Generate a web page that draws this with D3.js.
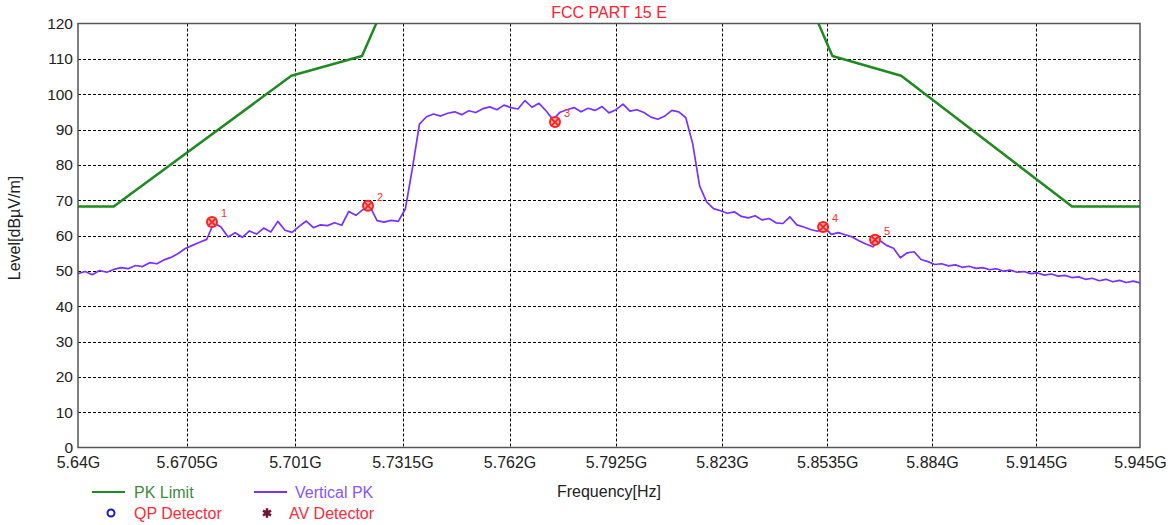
<!DOCTYPE html>
<html>
<head>
<meta charset="utf-8">
<script src="https://cdn.jsdelivr.net/npm/d3@7"></script>
<style>
  html, body { margin: 0; padding: 0; background: #fff; }
  svg { display: block; font-family: "Liberation Sans", Arial, sans-serif; }
</style>
</head>
<body>
<svg id="chart" width="1173" height="525"></svg>
<script>
// ---------------- data ----------------
const title = "FCC PART 15 E";
const xTickValues = [5.64, 5.6705, 5.701, 5.7315, 5.762, 5.7925, 5.823, 5.8535, 5.884, 5.9145, 5.945];
const xTickLabels = ["5.64G", "5.6705G", "5.701G", "5.7315G", "5.762G", "5.7925G", "5.823G", "5.8535G", "5.884G", "5.9145G", "5.945G"];
const yTickValues = [0, 10, 20, 30, 40, 50, 60, 70, 80, 90, 100, 110, 120];

// PK limit (GHz, dBµV/m)
const limitFreq  = [5.64, 5.65, 5.70, 5.72, 5.725, 5.85, 5.855, 5.875, 5.925, 5.945];
const limitLevel = [68.2, 68.2, 105.2, 110.8, 122.2, 122.2, 110.8, 105.2, 68.2, 68.2];

// Vertical PK sweep: start / stop (GHz) and level readings (dBµV/m), evenly swept
const sweepStart = 5.64;
const sweepStop  = 5.945;
const traceLevel = [
  49.2, 49.8, 48.9, 50.1, 49.6, 50.4, 50.9, 50.6, 51.5, 51.2,
  52.3, 52.0, 53.1, 53.8, 54.9, 56.3, 57.2, 58.1, 58.9, 63.6,
  62.4, 59.6, 60.8, 59.5, 61.3, 60.4, 62.1, 61.0, 64.0, 61.5,
  60.9, 62.6, 64.1, 62.2, 63.0, 62.8, 63.6, 62.9, 66.8, 65.7,
  67.3, 68.2, 64.2, 63.8, 64.3, 64.0, 67.5, 79.0, 91.5, 93.6,
  94.4, 93.8, 94.6, 95.0, 94.2, 95.3, 94.8, 95.9, 96.4, 95.6,
  96.9, 96.2, 95.8, 98.2, 96.3, 97.4, 95.3, 92.8, 94.9, 95.6,
  96.2, 95.0, 96.0, 95.4, 96.5, 94.7, 95.6, 97.2, 95.2, 95.6,
  94.8, 93.5, 92.9, 93.8, 95.4, 95.0, 93.4, 86.0, 74.0, 69.5,
  67.6, 67.0, 66.3, 66.7, 65.4, 65.0, 65.6, 64.4, 64.8, 63.6,
  63.4, 65.3, 63.0, 62.4, 61.7, 61.2, 62.3, 60.3, 60.8, 60.2,
  59.6, 58.5, 57.6, 56.8, 58.6, 57.2, 56.4, 53.7, 55.1, 55.4,
  53.2, 52.6, 51.8, 52.0, 51.4, 51.7, 51.0, 51.3, 50.7, 50.9,
  50.3, 50.6, 49.9, 50.2, 49.6, 49.8, 49.2, 49.4, 48.8, 49.1,
  48.5, 48.7, 48.1, 48.3, 47.6, 47.9, 47.2, 47.6, 46.9, 47.3,
  46.7, 47.1, 46.6
];

// markers
const markerLabel = ["1", "2", "3", "4", "5"];
const markerFreq  = [5.6776, 5.7217, 5.775, 5.8523, 5.8674];
const markerLevel = [63.8, 68.4, 92.1, 62.4, 58.8];

// legend
const legendItems = [
  { name: "PK Limit",    kind: "line",   color: "#1f8a1f", text: "#3c8c3c", col: 0, row: 0 },
  { name: "Vertical PK", kind: "line",   color: "#7a30ff", text: "#8a55ff", col: 1, row: 0 },
  { name: "QP Detector", kind: "circle", color: "#1a1acc", text: "#ff2a3a", col: 0, row: 1 },
  { name: "AV Detector", kind: "star",   color: "#7a1030", text: "#ff2a3a", col: 1, row: 1 }
];

// ---------------- layout ----------------
const svg = d3.select("#chart");
const L = 78, R = 1140, T = 23.5, B = 447.5;

const x = d3.scaleLog().domain([sweepStart, sweepStop]).range([L, R]);
const y = d3.scaleLinear().domain([0, 120]).range([B, T]);

const traceFreq = traceLevel.map((_, i) => sweepStart + (sweepStop - sweepStart) * i / (traceLevel.length - 1));

// title
svg.append("text").attr("x", 609).attr("y", 18).attr("text-anchor", "middle")
  .attr("fill", "#ff2030").attr("font-size", 16).text(title);

// grid
const grid = svg.append("g");
grid.selectAll("line.h").data(yTickValues.slice(1, -1)).join("line")
  .attr("x1", L).attr("x2", R).attr("y1", d => Math.round(y(d)) + 0.5).attr("y2", d => Math.round(y(d)) + 0.5)
  .attr("stroke", "#000").attr("stroke-width", 1).attr("stroke-dasharray", "3,2");
grid.selectAll("line.v").data(xTickValues.slice(1, -1)).join("line")
  .attr("y1", T).attr("y2", B).attr("x1", d => Math.round(x(d)) + 0.5).attr("x2", d => Math.round(x(d)) + 0.5)
  .attr("stroke", "#000").attr("stroke-width", 1).attr("stroke-dasharray", "3,2");

// axes
const yAxis = svg.append("g").attr("transform", `translate(${L},0)`)
  .call(d3.axisLeft(y).tickValues(yTickValues).tickSize(0).tickPadding(5));
yAxis.select(".domain").remove();
yAxis.selectAll("text").attr("font-size", 15.5).attr("fill", "#222").attr("font-family", "Liberation Sans, Arial, sans-serif");

const xAxis = svg.append("g").attr("transform", `translate(0,${B})`)
  .call(d3.axisBottom(x).tickValues(xTickValues).tickFormat((d, i) => xTickLabels[i]).tickSize(0).tickPadding(9));
xAxis.select(".domain").remove();
xAxis.selectAll("text").attr("font-size", 16).attr("fill", "#222").attr("font-family", "Liberation Sans, Arial, sans-serif");

// axis titles
svg.append("text").attr("transform", `translate(20,228) rotate(-90)`)
  .attr("text-anchor", "middle").attr("font-size", 16).attr("fill", "#222").text("Level[dBµV/m]");
svg.append("text").attr("x", 609).attr("y", 497).attr("text-anchor", "middle")
  .attr("font-size", 16).attr("fill", "#222").text("Frequency[Hz]");

// clip
svg.append("defs").append("clipPath").attr("id", "plotclip")
  .append("rect").attr("x", L).attr("y", T).attr("width", R - L).attr("height", B - T);
const plot = svg.append("g").attr("clip-path", "url(#plotclip)");

// limit line
plot.append("path")
  .datum(limitFreq.map((f, i) => [f, limitLevel[i]]))
  .attr("d", d3.line().x(d => x(d[0])).y(d => y(d[1])))
  .attr("fill", "none").attr("stroke", "#1f8a1f").attr("stroke-width", 2.5).attr("stroke-linejoin", "round");

// trace
plot.append("path")
  .datum(traceFreq.map((f, i) => [f, traceLevel[i]]))
  .attr("d", d3.line().x(d => x(d[0])).y(d => y(d[1])))
  .attr("fill", "none").attr("stroke", "#7a30ff").attr("stroke-width", 1.7).attr("stroke-linejoin", "round");

// frame
svg.append("rect").attr("x", L).attr("y", T).attr("width", R - L).attr("height", B - T)
  .attr("fill", "none").attr("stroke", "#555").attr("stroke-width", 1.5);

// markers
const mk = svg.append("g").selectAll("g").data(markerLabel).join("g")
  .attr("transform", (d, i) => `translate(${x(markerFreq[i])},${y(markerLevel[i])})`);
mk.append("circle").attr("r", 5).attr("fill", "#ffb0b0").attr("stroke", "#ff2020").attr("stroke-width", 2);
mk.append("path").attr("d", "M-4,-4L4,4M-4,4L4,-4").attr("stroke", "#ff2020").attr("stroke-width", 1.8);
mk.append("text").attr("x", 9).attr("y", -5).attr("font-size", 11).attr("fill", "#ff3030").text(d => d);

// legend
const colX = [92, 254], rowY = [492, 513], textX = [134, 295];
const lg = svg.append("g").selectAll("g").data(legendItems).join("g");
lg.each(function (d) {
  const g = d3.select(this);
  const lx = colX[d.col], ly = rowY[d.row];
  if (d.kind === "line") {
    g.append("line").attr("x1", lx).attr("x2", lx + 33).attr("y1", ly).attr("y2", ly)
      .attr("stroke", d.color).attr("stroke-width", 2);
  } else if (d.kind === "circle") {
    g.append("circle").attr("cx", lx + 19).attr("cy", ly).attr("r", 3.5)
      .attr("fill", "none").attr("stroke", d.color).attr("stroke-width", 2);
  } else {
    g.append("path").attr("transform", `translate(${lx + 13},${ly})`)
      .attr("d", d3.symbol().type(d3.symbolAsterisk).size(60)())
      .attr("stroke", d.color).attr("stroke-width", 2.5).attr("fill", "none");
    g.append("circle").attr("cx", lx + 13).attr("cy", ly).attr("r", 2.5).attr("fill", d.color);
  }
  g.append("text").attr("x", d.col === 0 ? textX[0] : (d.kind === "star" ? 289 : textX[1]))
    .attr("y", ly + 6).attr("font-size", 16).attr("fill", d.text).text(d.name);
});
</script>
</body>
</html>
